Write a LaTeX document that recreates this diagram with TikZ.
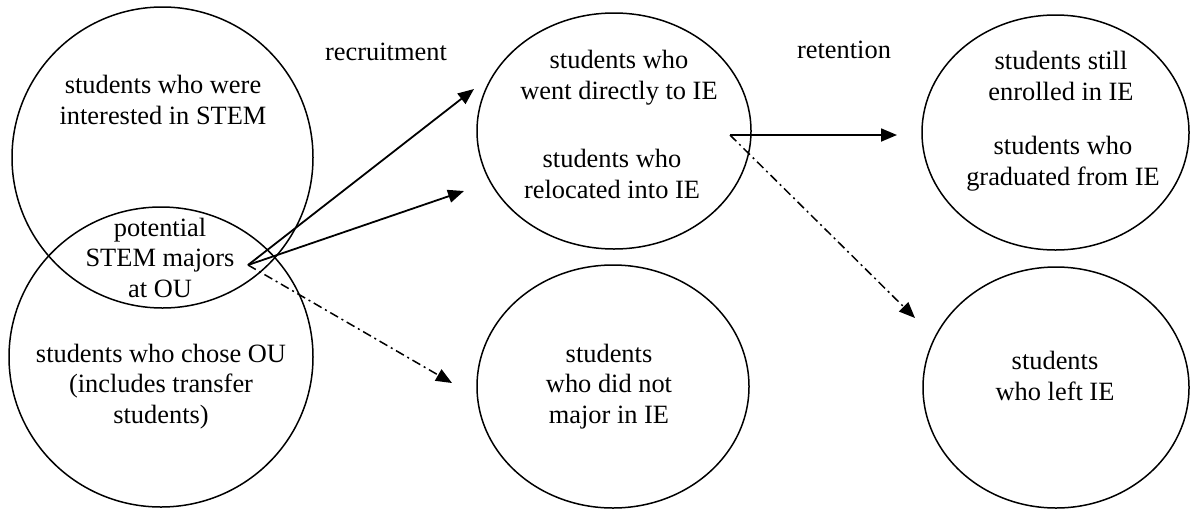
\documentclass[tikz,border=0pt]{standalone}
\usepackage{fontspec}
\setmainfont{Liberation Serif}
\usetikzlibrary{shapes.geometric,arrows.meta}
\begin{document}
\begin{tikzpicture}[x=1pt,y=-1pt,
  set/.style={draw, ellipse, line width=1.5pt, inner sep=0pt},
  lbl/.style={font=\fontsize{26.4}{30.5}\selectfont, align=center, anchor=base, inner sep=0pt},
  flow/.style={line width=1.8pt, -{Triangle[length=16pt,width=13pt]}},
  dd/.style={line width=1.5pt, dash pattern=on 9pt off 4pt on 2pt off 4pt, -{Triangle[length=16pt,width=13pt]}}]
\useasboundingbox (0,0) rectangle (1190,509);
% sets
\node[set, minimum width=301pt, minimum height=301pt] (interest) at (162.5,157.5) {};
\node[set, minimum width=304pt, minimum height=300pt] (chose) at (161,357) {};
\node[set, minimum width=274pt, minimum height=236pt] (ie) at (614,131) {};
\node[set, minimum width=272pt, minimum height=243pt] (notie) at (613,386.5) {};
\node[set, minimum width=267pt, minimum height=235pt] (stay) at (1055.5,132.5) {};
\node[set, minimum width=266pt, minimum height=241pt] (left) at (1056,387.5) {};
% texts (anchor = baseline of the last line)
\node[lbl] (tA) at (163,124) {students who were\\interested in STEM};
\node[lbl] (tAB) at (160,297) {potential\\STEM majors\\at OU};
\node[lbl] (tB) at (161,423) {students who chose OU\\(includes transfer\\students)};
\node[lbl] (rec) at (386,60) {recruitment};
\node[lbl] (tC1) at (619,99) {students who\\went directly to IE};
\node[lbl] (tC2) at (612,198) {students who\\relocated into IE};
\node[lbl] (tD) at (609,423) {students\\who did not\\major in IE};
\node[lbl] (ret) at (844,58) {retention};
\node[lbl] (tE1) at (1061,100) {students still\\enrolled in IE};
\node[lbl] (tE2) at (1063,185) {students who\\graduated from IE};
\node[lbl] (tF) at (1055,400) {students\\who left IE};
% connector points
\coordinate (s1) at (248,265);
\coordinate (d1) at (474,89);
\coordinate (d2) at (464,191);
\coordinate (d3) at (452,383);
\coordinate (s2) at (730,135);
\coordinate (d4) at (897,135);
\coordinate (d5) at (915,318);
\draw[flow] (s1) -- (d1);
\draw[flow] (s1) -- (d2);
\draw[dd] (s1) -- (d3);
\draw[flow] (s2) -- (d4);
\draw[dd] (s2) -- (d5);
\end{tikzpicture}
\end{document}
